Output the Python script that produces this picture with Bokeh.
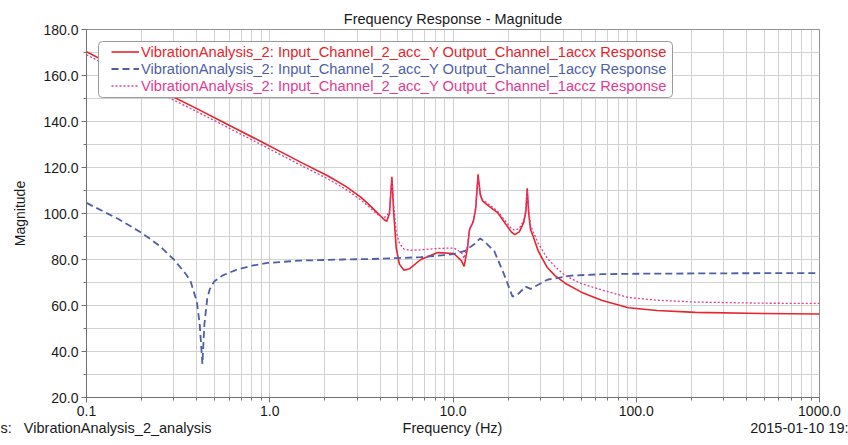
from bokeh.plotting import figure
from bokeh.models import (Legend, LegendItem, BoxAnnotation, FixedTicker, LinearAxis,
                          Range1d, LinearScale)
from bokeh.embed import file_html
from bokeh.resources import INLINE

# ---- data ----
freq_x = [0.1, 0.15, 0.2, 0.273, 0.4, 0.6, 0.89, 1.15, 1.5, 2.07, 2.6, 3.15, 3.55,
          3.95, 4.2, 4.35, 4.5, 4.64, 4.75, 4.9, 5.1, 5.4, 5.8, 6.67, 8.25, 10.1,
          11.1, 11.5, 12.0, 12.3, 12.9, 13.3, 13.7, 14.1, 14.5, 15.5, 17.5, 20.8,
          21.7, 23.0, 24.3, 25.0, 25.4, 25.9, 26.5, 27.4, 29.2, 32.7, 36.0, 40.9,
          50.2, 64.6, 90.5, 130.0, 210.0, 485.0, 1000.0]
mag_x = [170.3, 163.1, 158.0, 152.2, 145.6, 138.4, 131.4, 126.8, 122.0, 116.4, 111.8,
         107.0, 103.2, 99.5, 97.4, 96.6, 100.0, 116.0, 100.0, 85.0, 78.0, 75.3, 76.0,
         80.0, 83.0, 82.6, 79.5, 77.0, 85.0, 93.0, 96.5, 102.0, 117.0, 108.0, 105.5,
         103.5, 100.4, 92.0, 90.8, 92.0, 96.0, 101.0, 111.0, 100.0, 93.0, 90.0, 83.6,
         76.5, 73.0, 69.7, 65.8, 62.3, 59.0, 57.8, 57.0, 56.5, 56.3]

freq_y = [0.1, 0.15, 0.2, 0.25, 0.3, 0.35, 0.37, 0.4, 0.415, 0.429, 0.44, 0.456, 0.47,
          0.497, 0.55, 0.665, 0.8, 0.97, 1.45, 2.5, 3.56, 6.67, 9.8, 11.5, 13.0, 14.1,
          15.2, 16.8, 19.0, 21.1, 22.5, 24.9, 26.5, 32.7, 44.0, 64.6, 100.0, 300.0,
          1000.0]
mag_y = [104.6, 97.5, 91.6, 86.0, 80.0, 73.5, 70.4, 61.7, 51.6, 34.6, 52.0, 63.0, 67.0,
         70.4, 73.0, 75.7, 77.3, 78.5, 79.5, 80.0, 80.2, 81.0, 82.2, 83.6, 86.5, 89.2,
         87.0, 83.6, 73.5, 63.9, 64.7, 68.2, 67.2, 71.2, 73.0, 73.6, 73.8, 74.0, 74.1]

freq_z = [0.1, 0.15, 0.2, 0.273, 0.4, 0.6, 0.89, 1.15, 1.5, 2.07, 2.6, 3.15, 3.55,
          3.95, 4.2, 4.35, 4.5, 4.64, 4.75, 4.9, 5.1, 5.4, 5.8, 6.67, 8.25, 10.1,
          11.1, 11.5, 12.0, 12.3, 12.9, 13.3, 13.7, 14.1, 14.5, 15.5, 17.5, 20.8,
          21.7, 23.0, 24.3, 25.0, 25.4, 25.9, 26.5, 27.4, 29.2, 32.7, 36.0, 40.9,
          50.2, 64.6, 90.5, 130.0, 210.0, 485.0, 1000.0]
mag_z = [169.0, 161.8, 156.7, 150.9, 144.3, 137.1, 130.1, 125.5, 120.7, 115.1, 110.5,
         105.8, 102.3, 99.0, 98.2, 99.0, 101.0, 115.0, 103.0, 92.0, 87.0, 84.5, 84.0,
         84.2, 84.8, 85.0, 83.0, 80.5, 86.0, 93.0, 97.0, 103.0, 116.0, 108.5, 106.0,
         104.3, 101.0, 93.5, 92.7, 93.5, 97.0, 102.0, 110.0, 101.0, 95.0, 92.0, 87.0,
         80.5, 77.0, 73.0, 69.5, 66.8, 63.5, 62.3, 61.5, 61.0, 60.9]

series_labels = [
    "VibrationAnalysis_2: Input_Channel_2_acc_Y Output_Channel_1accx Response",
    "VibrationAnalysis_2: Input_Channel_2_acc_Y Output_Channel_1accy Response",
    "VibrationAnalysis_2: Input_Channel_2_acc_Y Output_Channel_1accz Response",
]

x_ticks = [0.1, 1, 10, 100, 1000]
x_tick_labels = ["0.1", "1.0", "10.0", "100.0", "1000.0"]
y_ticks = [20, 40, 60, 80, 100, 120, 140, 160, 180]
y_tick_labels = ["20.0", "40.0", "60.0", "80.0", "100.0", "120.0", "140.0", "160.0", "180.0"]

title_text = "Frequency Response - Magnitude"
x_title = "Frequency (Hz)"
y_title = "Magnitude"
footer_left = "s:\u00a0\u00a0\u00a0VibrationAnalysis_2_analysis"
footer_right = "2015-01-10 19:"

# ---- styles ----
RED = "#e8242c"
BLUE = "#4f5fa6"
PINK = "#e23b93"
FONT = "Liberation Sans"
TXT = "#1a1a1a"
GRID = "#d2d2d2"
FS = "14px"

p = figure(width=848, height=445, x_axis_type="log", x_range=(0.1, 1000), y_range=(20, 180),
           output_backend="svg", toolbar_location=None, title=title_text,
           min_border_left=86, min_border_right=29, min_border_top=29, min_border_bottom=48)

p.title.align = "center"
p.title.text_font = FONT
p.title.text_font_size = "14.5px"
p.title.text_font_style = "normal"
p.title.text_color = TXT
p.title.standoff = 5

x_minor = [m * d for d in [0.1, 1, 10, 100] for m in range(2, 10)]
y_minor = list(range(30, 180, 20))
xt = FixedTicker(ticks=x_ticks, minor_ticks=x_minor)
yt = FixedTicker(ticks=y_ticks, minor_ticks=y_minor)
p.xaxis.ticker = xt
p.yaxis.ticker = yt
p.xgrid.ticker = xt
p.ygrid.ticker = yt
p.xaxis.major_label_overrides = {t: l for t, l in zip(x_ticks, x_tick_labels)}
p.yaxis.major_label_overrides = {t: l for t, l in zip(y_ticks, y_tick_labels)}

for ax in (p.xaxis[0], p.yaxis[0]):
    ax.axis_line_color = "#707070"
    ax.major_tick_line_color = "#707070"
    ax.minor_tick_line_color = "#707070"
    ax.major_tick_in = 0
    ax.major_tick_out = 5
    ax.minor_tick_in = 0
    ax.minor_tick_out = 3
    ax.major_label_text_font = FONT
    ax.major_label_text_font_size = FS
    ax.major_label_text_color = TXT
    ax.axis_label_text_font = FONT
    ax.axis_label_text_font_size = FS
    ax.axis_label_text_font_style = "normal"
    ax.axis_label_text_color = TXT

p.xaxis.major_label_standoff = 3
p.yaxis.axis_label = y_title
p.yaxis.major_label_standoff = 3
p.yaxis.axis_label_standoff = 12

for g in (p.xgrid[0], p.ygrid[0]):
    g.grid_line_color = GRID
    g.minor_grid_line_color = GRID
    g.grid_line_width = 1
    g.minor_grid_line_width = 1

p.outline_line_color = "#909090"
p.background_fill_color = "white"
p.border_fill_color = "white"

r_x = p.line(freq_x, mag_x, line_color=RED, line_width=1.6)
r_y = p.line(freq_y, mag_y, line_color=BLUE, line_width=1.8, line_dash="7 4")
r_z = p.line(freq_z, mag_z, line_color=PINK, line_width=1.3, line_dash="2 2")

# legend frame (screen units = relative to plot frame, y up)
box = BoxAnnotation(left=12, right=586, top=356, bottom=300,
                    left_units="screen", right_units="screen",
                    top_units="screen", bottom_units="screen",
                    fill_color="white", fill_alpha=1.0,
                    line_color="#9a9a9a", line_width=1, line_alpha=1.0,
                    border_radius=4)
p.add_layout(box)

for i, (lab, rend, col) in enumerate(zip(series_labels, [r_x, r_y, r_z], [RED, BLUE, PINK])):
    lg = Legend(items=[LegendItem(label=lab, renderers=[rend])],
                location=(25, 337 - 17 * i),
                border_line_alpha=0, background_fill_alpha=0,
                padding=0, margin=0, spacing=0,
                glyph_width=28, glyph_height=17, label_height=17,
                label_standoff=2,
                label_text_font=FONT, label_text_font_size="14.7px",
                label_text_color=col)
    p.add_layout(lg)

# footer row (x-axis title and the two caption texts) as a label-only axis below
p.extra_x_ranges = {"foot": Range1d(0, 733)}
p.extra_x_scales = {"foot": LinearScale()}
foot_pos = [12, 366, 715]
foot_texts = [footer_left, x_title, footer_right]
foot_axis = LinearAxis(x_range_name="foot",
                       ticker=FixedTicker(ticks=foot_pos, minor_ticks=[]),
                       major_label_overrides={t: s for t, s in zip(foot_pos, foot_texts)},
                       axis_line_color=None, major_tick_line_color=None,
                       minor_tick_line_color=None, major_tick_in=0, major_tick_out=0,
                       major_label_standoff=1,
                       major_label_text_font=FONT, major_label_text_font_size="14.5px",
                       major_label_text_color=TXT)
p.add_layout(foot_axis, "below")

open("out.html", "w").write(file_html(p, INLINE))
